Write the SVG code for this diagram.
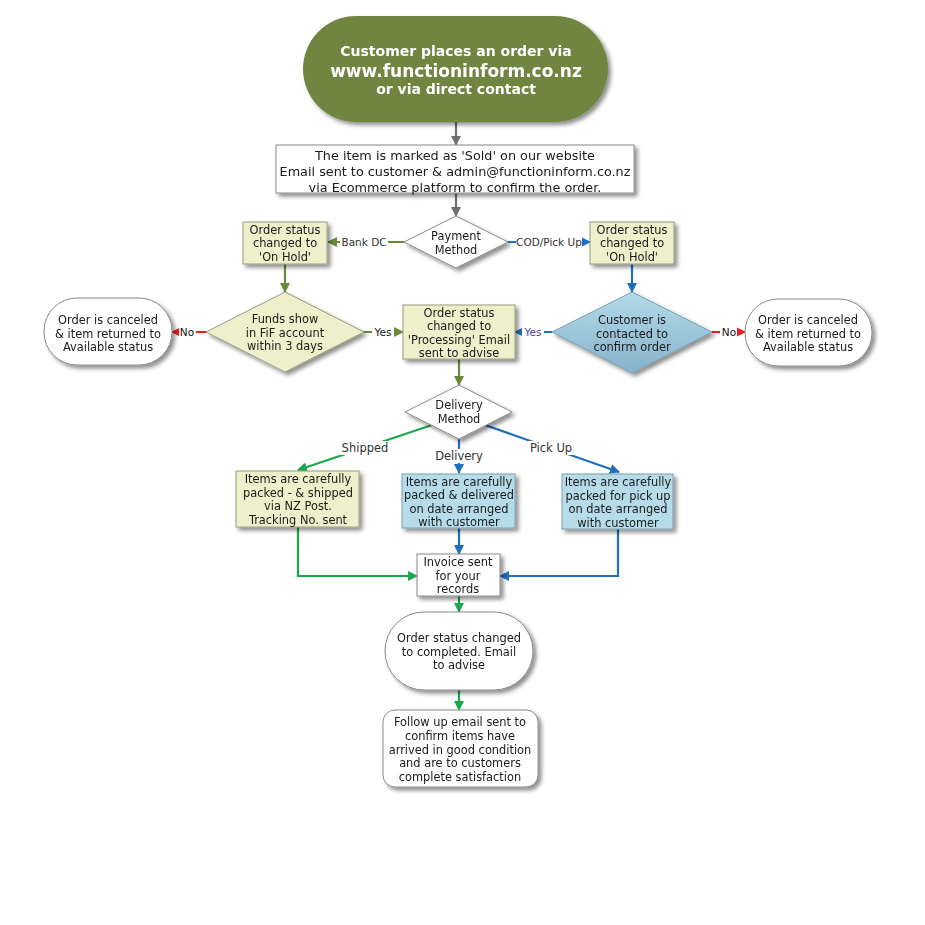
<svg xmlns="http://www.w3.org/2000/svg" width="925" height="925" viewBox="0 0 925 925">
<defs>
<filter id="sh" x="-20%" y="-20%" width="140%" height="150%">
<feGaussianBlur in="SourceAlpha" stdDeviation="2"/>
<feOffset dx="3" dy="3" result="b"/>
<feComponentTransfer><feFuncA type="linear" slope="0.45"/></feComponentTransfer>
<feMerge><feMergeNode/><feMergeNode in="SourceGraphic"/></feMerge>
</filter>
<linearGradient id="blueDia" x1="0" y1="0" x2="0" y2="1">
<stop offset="0" stop-color="#b3dae8"/>
<stop offset="1" stop-color="#86b3cb"/>
</linearGradient>
<marker id="aGray" viewBox="0 0 10 10" refX="9" refY="5" markerWidth="10" markerHeight="10" markerUnits="userSpaceOnUse" orient="auto"><path d="M0,0 L10,5 L0,10 z" fill="#707070"/></marker>
<marker id="aOlive" viewBox="0 0 10 10" refX="9" refY="5" markerWidth="10" markerHeight="10" markerUnits="userSpaceOnUse" orient="auto"><path d="M0,0 L10,5 L0,10 z" fill="#6a8a3a"/></marker>
<marker id="aGreen" viewBox="0 0 10 10" refX="9" refY="5" markerWidth="10" markerHeight="10" markerUnits="userSpaceOnUse" orient="auto"><path d="M0,0 L10,5 L0,10 z" fill="#1ba84b"/></marker>
<marker id="aBlue" viewBox="0 0 10 10" refX="9" refY="5" markerWidth="10" markerHeight="10" markerUnits="userSpaceOnUse" orient="auto"><path d="M0,0 L10,5 L0,10 z" fill="#1f6fbf"/></marker>
<marker id="aRed" viewBox="0 0 10 10" refX="9" refY="5" markerWidth="10" markerHeight="10" markerUnits="userSpaceOnUse" orient="auto"><path d="M0,0 L10,5 L0,10 z" fill="#ee1c1c"/></marker>
</defs>
<style>
text{font-family:"DejaVu Sans","Liberation Sans",sans-serif;font-size:11.4px;fill:#1a1a1a;text-anchor:middle}
.big{font-size:12.8px}
.title{fill:#ffffff;font-weight:bold;font-size:14px}
.title2{fill:#ffffff;font-weight:bold;font-size:17px}
.lbl{font-size:10.5px;fill:#333}
.lb2{font-size:11.5px;fill:#333}
.white{fill:#ffffff;stroke:#8a8a8a;stroke-width:1}
.yel{fill:#eeefcb;stroke:#9a9a80;stroke-width:1}
.blu{fill:#b5dce8;stroke:#7d9fae;stroke-width:1}
.c{fill:none;stroke-width:2.2}
.gray{stroke:#707070}
.olive{stroke:#6a8a3a}
.green{stroke:#1ba84b}
.blue{stroke:#1f6fbf}
.red{stroke:#ee1c1c}
</style>
<rect width="925" height="925" fill="#ffffff"/>

<g id="connectors">
<path class="c gray" d="M456,122 V145" marker-end="url(#aGray)"/>
<path class="c gray" d="M456,193 V216" marker-end="url(#aGray)"/>
<path class="c olive" d="M404,242 H328" marker-end="url(#aOlive)"/>
<path class="c blue" d="M508,242 H590" marker-end="url(#aBlue)"/>
<path class="c olive" d="M285,264 V292" marker-end="url(#aOlive)"/>
<path class="c blue" d="M632,264 V292" marker-end="url(#aBlue)"/>
<path class="c red" d="M206,332 H172" marker-end="url(#aRed)"/>
<path class="c olive" d="M364,332 H403" marker-end="url(#aOlive)"/>
<path class="c blue" d="M552,332 H515" marker-end="url(#aBlue)"/>
<path class="c red" d="M712,332 H745" marker-end="url(#aRed)"/>
<path class="c olive" d="M459,359 V385" marker-end="url(#aOlive)"/>
<path class="c green" d="M432,425 L298,470" marker-end="url(#aGreen)"/>
<path class="c blue" d="M459,439 V473" marker-end="url(#aBlue)"/>
<path class="c blue" d="M485,425 L619,472" marker-end="url(#aBlue)"/>
<path class="c blue" d="M459,528 V554" marker-end="url(#aBlue)"/>
<path class="c green" d="M298,527 V576 H417" marker-end="url(#aGreen)"/>
<path class="c blue" d="M618,529 V576 H500" marker-end="url(#aBlue)"/>
<path class="c green" d="M459,596 V612" marker-end="url(#aGreen)"/>
<path class="c green" d="M459,690 V710" marker-end="url(#aGreen)"/>
<rect x="340" y="236" width="48" height="13" fill="#ffffff"/>
<text class="lbl" x="364" y="246">Bank DC</text>
<rect x="516" y="236" width="66" height="13" fill="#ffffff"/>
<text class="lbl" x="549" y="246">COD/Pick Up</text>
<rect x="179" y="326" width="17" height="13" fill="#ffffff"/>
<text class="lbl" x="187" y="336" style="fill:#111">No</text>
<rect x="372" y="326" width="22" height="13" fill="#ffffff"/>
<text class="lbl" x="383" y="336" style="fill:#222">Yes</text>
<rect x="522" y="326" width="22" height="13" fill="#ffffff"/>
<text class="lbl" x="533" y="336" style="fill:#5a3aa8">Yes</text>
<rect x="720" y="326" width="17" height="13" fill="#ffffff"/>
<text class="lbl" x="729" y="336" style="fill:#111">No</text>
<rect x="340" y="441" width="50" height="14" fill="#ffffff"/>
<text class="lb2" x="365" y="452">Shipped</text>
<rect x="433" y="449" width="52" height="14" fill="#ffffff"/>
<text class="lb2" x="459" y="460">Delivery</text>
<rect x="527" y="441" width="48" height="14" fill="#ffffff"/>
<text class="lb2" x="551" y="452">Pick Up</text>
</g>

<g id="start" filter="url(#sh)">
<rect x="303" y="16" width="305" height="106" rx="53" fill="#6f8640"/>
<text class="title" x="456" y="56">Customer places an order via</text>
<text class="title2" x="456" y="77">www.functioninform.co.nz</text>
<text class="title" x="456" y="94">or via direct contact</text>
</g>

<g id="marked-sold" filter="url(#sh)">
<rect class="white" x="276" y="145" width="358" height="48"/>
<text class="big" x="455" y="160">The item is marked as 'Sold' on our website</text>
<text class="big" x="455" y="176">Email sent to customer &amp; admin@functioninform.co.nz</text>
<text class="big" x="455" y="192">via Ecommerce platform to confirm the order.</text>
</g>

<g id="payment-method" filter="url(#sh)">
<polygon class="white" points="456,216 508,242 456,268 404,242"/>
<text x="456" y="240">Payment</text>
<text x="456" y="254">Method</text>
</g>

<g id="on-hold-left" filter="url(#sh)">
<rect class="yel" x="243" y="222" width="84" height="42"/>
<text x="285" y="234">Order status</text>
<text x="285" y="247">changed to</text>
<text x="285" y="261">'On Hold'</text>
</g>

<g id="on-hold-right" filter="url(#sh)">
<rect class="yel" x="590" y="222" width="84" height="42"/>
<text x="632" y="234">Order status</text>
<text x="632" y="247">changed to</text>
<text x="632" y="261">'On Hold'</text>
</g>

<g id="funds-show" filter="url(#sh)">
<polygon class="yel" points="285,292 364,332 285,372 206,332"/>
<text x="285" y="323">Funds show</text>
<text x="285" y="337">in FiF account</text>
<text x="285" y="350">within 3 days</text>
</g>

<g id="cancel-left" filter="url(#sh)">
<rect class="white" x="44" y="298" width="128" height="67" rx="33"/>
<text x="108" y="324">Order is canceled</text>
<text x="108" y="338">&amp; item returned to</text>
<text x="108" y="351">Available status</text>
</g>

<g id="processing" filter="url(#sh)">
<rect class="yel" x="403" y="305" width="112" height="54"/>
<text x="459" y="317">Order status</text>
<text x="459" y="330">changed to</text>
<text x="459" y="344">'Processing' Email</text>
<text x="459" y="357">sent to advise</text>
</g>

<g id="customer-contacted" filter="url(#sh)">
<polygon points="632,292 712,332 632,373 552,332" fill="url(#blueDia)" stroke="#7a9fb2" stroke-width="1"/>
<text x="632" y="324">Customer is</text>
<text x="632" y="338">contacted to</text>
<text x="632" y="351">confirm order</text>
</g>

<g id="cancel-right" filter="url(#sh)">
<rect class="white" x="745" y="299" width="127" height="67" rx="33"/>
<text x="808" y="324">Order is canceled</text>
<text x="808" y="338">&amp; item returned to</text>
<text x="808" y="351">Available status</text>
</g>

<g id="delivery-method" filter="url(#sh)">
<polygon class="white" points="459,385 512,412 459,439 405,412"/>
<text x="459" y="409">Delivery</text>
<text x="459" y="423">Method</text>
</g>

<g id="shipped" filter="url(#sh)">
<rect class="yel" x="236" y="471" width="123" height="56"/>
<text x="298" y="483">Items are carefully</text>
<text x="298" y="497">packed - &amp; shipped</text>
<text x="298" y="510">via NZ Post.</text>
<text x="298" y="524">Tracking No. sent</text>
</g>

<g id="delivered" filter="url(#sh)">
<rect class="blu" x="402" y="474" width="113" height="54"/>
<text x="459" y="486">Items are carefully</text>
<text x="459" y="499">packed &amp; delivered</text>
<text x="459" y="513">on date arranged</text>
<text x="459" y="526">with customer</text>
</g>

<g id="pickup" filter="url(#sh)">
<rect class="blu" x="562" y="474" width="111" height="55"/>
<text x="618" y="486">Items are carefully</text>
<text x="618" y="500">packed for pick up</text>
<text x="618" y="513">on date arranged</text>
<text x="618" y="527">with customer</text>
</g>

<g id="invoice" filter="url(#sh)">
<rect class="white" x="417" y="554" width="83" height="42"/>
<text x="458" y="566">Invoice sent</text>
<text x="458" y="580">for your</text>
<text x="458" y="593">records</text>
</g>

<g id="completed" filter="url(#sh)">
<rect class="white" x="385" y="612" width="148" height="78" rx="39"/>
<text x="459" y="642">Order status changed</text>
<text x="459" y="656">to completed. Email</text>
<text x="459" y="669">to advise</text>
</g>

<g id="follow-up" filter="url(#sh)">
<rect class="white" x="383" y="710" width="155" height="77" rx="12"/>
<text x="460" y="726">Follow up email sent to</text>
<text x="460" y="740">confirm items have</text>
<text x="460" y="754">arrived in good condition</text>
<text x="460" y="767">and are to customers</text>
<text x="460" y="781">complete satisfaction</text>
</g>
</svg>
